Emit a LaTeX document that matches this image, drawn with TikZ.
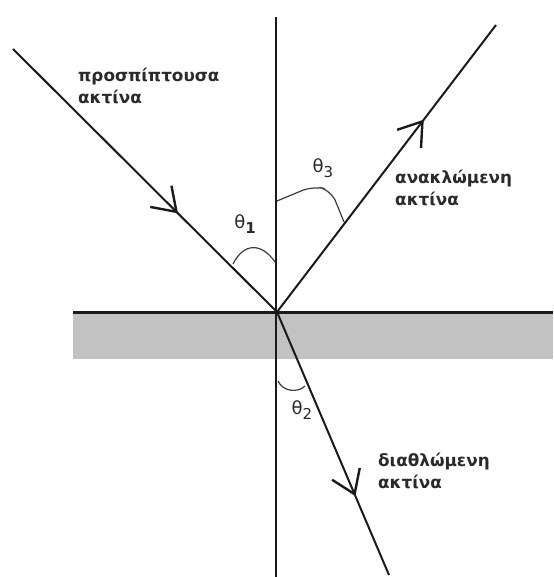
\documentclass[tikz,border=0pt]{standalone}
\usepackage{fontspec}
\setmainfont{DejaVu Sans}
\usetikzlibrary{arrows.meta,decorations.markings}
\definecolor{band}{HTML}{C2C2C2}
\definecolor{ink}{HTML}{1A1A1A}
\definecolor{txt}{HTML}{2A2A2A}
\tikzset{
  ray/.style={draw=ink, line width=2pt},
  rayarrow/.style={ray, postaction={decorate}, decoration={markings,
     mark=at position #1 with {\arrow{Straight Barb[length=22pt,width=30pt,line width=2.4pt]}}}},
  lbl/.style={text=txt, font=\bfseries\fontsize{16.8}{22}\selectfont, align=left, anchor=north west, inner sep=0pt},
  ang/.style={text=txt, font=\fontsize{18}{18}\selectfont, inner sep=0pt},
  arcline/.style={draw=ink!85, line width=1.2pt}
}
\begin{document}
\begin{tikzpicture}[x=1pt,y=-1pt]
\useasboundingbox (0,0) rectangle (553,577);
\coordinate (O) at (277,312);
\coordinate (I) at (13,49);
\coordinate (R) at (496,25);
\coordinate (T) at (389,575);
\coordinate (Vt) at (276,17);
\coordinate (Vb) at (276,577);
\coordinate (Hl) at (73,312);
\coordinate (Hr) at (553,312);
% medium band
\fill[band] (73,313) rectangle (553,359);
% normal and surface
\draw[draw=ink, line width=2.3pt] (Vt) -- (Vb);
\draw[draw=ink, line width=3pt] (Hl) -- (Hr);
% rays
\draw[rayarrow=0.625] (I) -- (O);
\draw[rayarrow=0.67] (O) -- (R);
\draw[rayarrow=0.70] (O) -- (T);
% angle marks
\draw[arcline] (233,264) .. controls (244,242) and (262,243) .. (275,262);
\draw[arcline, rounded corners=12pt] (277,201) -- (313,186) -- (331,190) -- (344,222);
\draw[arcline] (278,381) .. controls (283,392) and (298,393) .. (305,386);
% angle labels
\node[ang] (t1) at (245,224) {θ\raisebox{-5pt}{\bfseries\fontsize{15}{15}\selectfont 1}};
\node[ang] (t3) at (323,168) {θ\raisebox{-5pt}{\fontsize{15}{15}\selectfont 3}};
\node[ang] (t2) at (302,410) {θ\raisebox{-5pt}{\fontsize{15}{15}\selectfont 2}};
% text labels
\node[lbl] (inc) at (78,68) {προσπίπτουσα\\ακτίνα};
\node[lbl] (refl) at (395,170) {ανακλώμενη\\ακτίνα};
\node[lbl] (refr) at (378,453) {διαθλώμενη\\ακτίνα};
\end{tikzpicture}
\end{document}
